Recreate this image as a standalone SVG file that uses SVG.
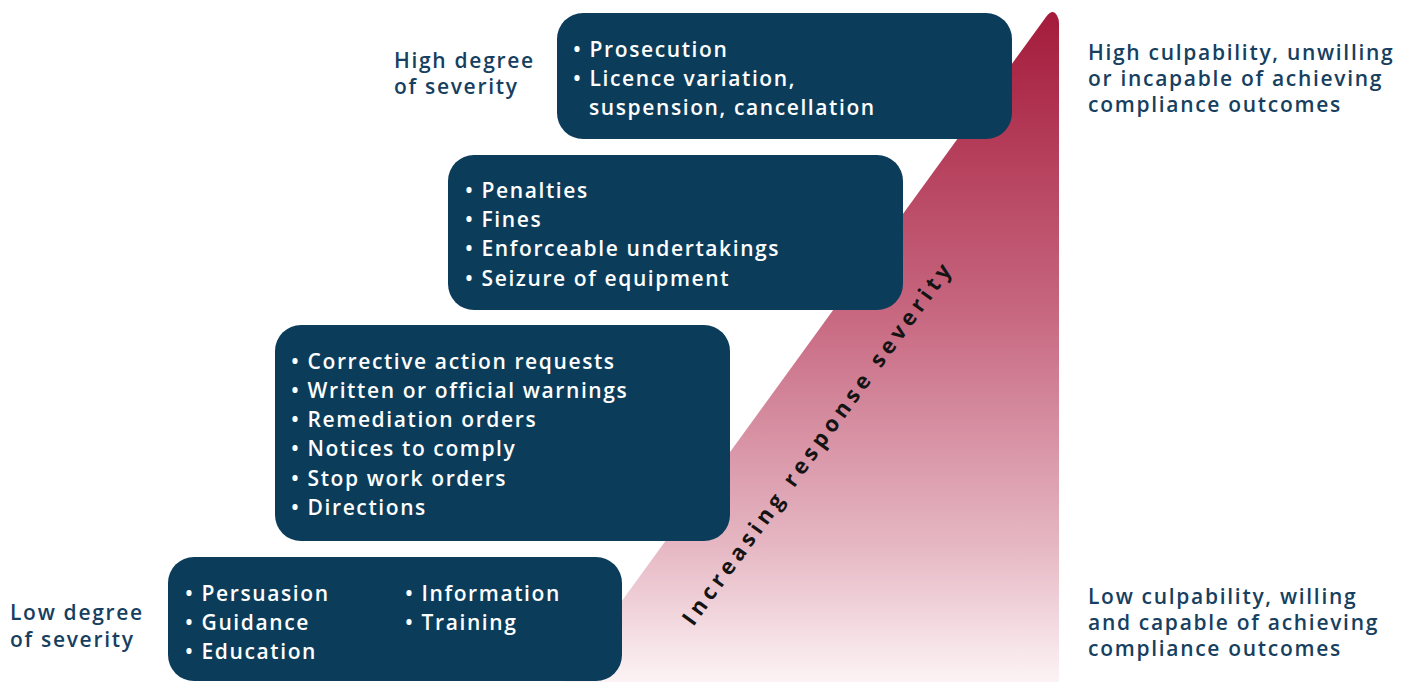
<svg xmlns="http://www.w3.org/2000/svg" width="1412" height="682" viewBox="0 0 1412 682">
<defs>
<linearGradient id="grad" x1="0" y1="10" x2="0" y2="682" gradientUnits="userSpaceOnUse">
<stop offset="0" stop-color="#A41A3A"/>
<stop offset="0.45" stop-color="#C76780"/>
<stop offset="0.8" stop-color="#E6B8C4"/>
<stop offset="1" stop-color="#FCF3F5"/>
</linearGradient>
<style>
.box{fill:#0B3D5B}
.t{font-family:"Open Sans","Liberation Sans",sans-serif;font-weight:600;font-size:21px;fill:#ffffff;letter-spacing:1.6px}
.lbl{font-family:"Open Sans","Liberation Sans",sans-serif;font-weight:600;font-size:21px;fill:#173F5F;letter-spacing:1.7px}
.rot{font-family:"Open Sans","Liberation Sans",sans-serif;font-weight:bold;font-size:22px;fill:#141414;letter-spacing:4.7px}
</style>
</defs>
<rect width="1412" height="682" fill="#ffffff"/>
<g id="triangle">
<path d="M563,682 L1046,17 Q1052,9 1056,14 Q1059,18 1059,24 L1059,682 Z" fill="url(#grad)"/>
</g>
<g id="axis-label">
<text class="rot" x="824" y="447" text-anchor="middle" transform="rotate(-54 824 447)">Increasing response severity</text>
</g>
<g id="box-high">
<rect class="box" x="557" y="13" width="455" height="126" rx="26"/>
<text class="t" x="573" y="57">• Prosecution</text>
<text class="t" x="573" y="86">• Licence variation,</text>
<text class="t" x="589" y="115">suspension, cancellation</text>
</g>
<g id="box-penalties">
<rect class="box" x="448" y="155" width="455" height="155" rx="26"/>
<text class="t" x="465" y="198">• Penalties</text>
<text class="t" x="465" y="227">• Fines</text>
<text class="t" x="465" y="256">• Enforceable undertakings</text>
<text class="t" x="465" y="286">• Seizure of equipment</text>
</g>
<g id="box-corrective">
<rect class="box" x="275" y="325" width="455" height="216" rx="26"/>
<text class="t" x="291" y="369">• Corrective action requests</text>
<text class="t" x="291" y="398">• Written or official warnings</text>
<text class="t" x="291" y="427">• Remediation orders</text>
<text class="t" x="291" y="456">• Notices to comply</text>
<text class="t" x="291" y="486">• Stop work orders</text>
<text class="t" x="291" y="515">• Directions</text>
</g>
<g id="box-low">
<rect class="box" x="168" y="557" width="454" height="124" rx="26"/>
<text class="t" x="185" y="601">• Persuasion</text>
<text class="t" x="185" y="630">• Guidance</text>
<text class="t" x="185" y="659">• Education</text>
<text class="t" x="405" y="601">• Information</text>
<text class="t" x="405" y="630">• Training</text>
</g>
<g id="label-high-degree">
<text class="lbl" x="394" y="68">High degree</text>
<text class="lbl" x="394" y="94">of severity</text>
</g>
<g id="label-low-degree">
<text class="lbl" x="10" y="620">Low degree</text>
<text class="lbl" x="10" y="647">of severity</text>
</g>
<g id="label-high-culpability">
<text class="lbl" x="1088" y="60">High culpability, unwilling</text>
<text class="lbl" x="1088" y="86">or incapable of achieving</text>
<text class="lbl" x="1088" y="112">compliance outcomes</text>
</g>
<g id="label-low-culpability">
<text class="lbl" x="1088" y="604">Low culpability, willing</text>
<text class="lbl" x="1088" y="630">and capable of achieving</text>
<text class="lbl" x="1088" y="656">compliance outcomes</text>
</g>
<g id="connectors"/>
</svg>
